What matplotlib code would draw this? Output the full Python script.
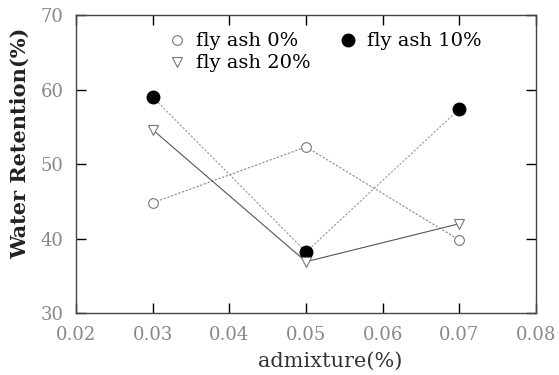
import matplotlib
matplotlib.use('Agg')
import matplotlib.pyplot as plt
from matplotlib.lines import Line2D

# data
x = [0.03, 0.05, 0.07]
ash0 = [44.8, 52.3, 39.8]
ash10 = [59.0, 38.2, 57.4]
ash20 = [54.6, 36.9, 42.0]
xticks = [0.02, 0.03, 0.04, 0.05, 0.06, 0.07, 0.08]
yticks = [30, 40, 50, 60, 70]
labels = ['fly ash 0%', 'fly ash 10%', 'fly ash 20%']

plt.rcParams['font.family'] = ['DejaVu Serif']

fig = plt.figure(figsize=(5.59, 3.75), dpi=100)
ax = fig.add_axes([0.136, 0.165, 0.823, 0.795])

p0, = ax.plot(x, ash0, color='#888888', lw=0.8, ls=(0, (2, 1.5)), marker='o',
              ms=7, mfc='white', mec='#777777', mew=0.8)
p1, = ax.plot(x, ash10, color='#999999', lw=0.8, ls=(0, (2, 1.5)), marker='o',
              ms=9, mfc='black', mec='black')
p2, = ax.plot(x, ash20, color='#555555', lw=0.8, marker='v',
              ms=7, mfc='white', mec='#777777', mew=0.8)

ax.set_xlim(0.02, 0.08)
ax.set_ylim(30, 70)
ax.set_xticks(xticks)
ax.set_yticks(yticks)
ax.set_xticklabels(['%.2f' % v for v in xticks], color='#888888', fontsize=13)
ax.set_yticklabels([str(v) for v in yticks], color='#888888', fontsize=13)
ax.tick_params(direction='in', top=True, right=True, length=7, width=1.0, pad=9)

ax.set_xlabel('admixture(%)', fontsize=15, color='#333333')
ax.set_ylabel('Water Retention(%)', fontsize=15, color='#222222',
              fontweight='bold')
ax.xaxis.set_label_coords(0.552, -0.13)
ax.yaxis.set_label_coords(-0.1, 0.57)

for s in ax.spines.values():
    s.set_linewidth(1.0)
    s.set_color('#444444')

# legend markers only, row-major order
h0 = Line2D([], [], ls='none', marker='o', ms=7, mfc='white', mec='#777777', mew=0.8)
h1 = Line2D([], [], ls='none', marker='o', ms=9, mfc='black', mec='black')
h2 = Line2D([], [], ls='none', marker='v', ms=7, mfc='white', mec='#777777', mew=0.8)
ax.legend([h0, h2, h1], [labels[0], labels[2], labels[1]], ncol=2, frameon=False,
          loc='upper left', bbox_to_anchor=(0.16, 1.0),
          handletextpad=0.5, columnspacing=1.4, labelspacing=0.2,
          handlelength=1.0, prop={'size': 14})

plt.savefig('out.png', dpi=100)
